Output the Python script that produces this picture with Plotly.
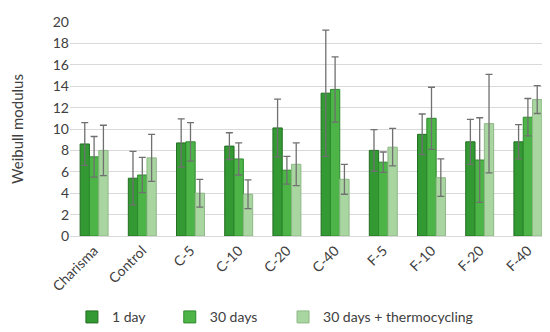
import plotly.graph_objects as go

categories = ["Charisma", "Control", "C-5", "C-10", "C-20", "C-40", "F-5", "F-10", "F-20", "F-40"]
series_names = ["1 day", "30 days", "30 days + thermocycling"]
day1 = [8.6, 5.4, 8.7, 8.4, 10.1, 13.35, 8.0, 9.5, 8.8, 8.8]
day1_err = [2.0, 2.5, 2.25, 1.25, 2.7, 5.9, 1.95, 1.9, 2.1, 1.6]
day30 = [7.4, 5.7, 8.8, 7.2, 6.15, 13.7, 6.9, 11.0, 7.1, 11.1]
day30_err = [1.9, 1.65, 1.8, 1.5, 1.3, 3.05, 0.95, 2.9, 3.95, 1.75]
thermo = [8.0, 7.3, 4.0, 3.9, 6.7, 5.3, 8.3, 5.45, 10.5, 12.75]
thermo_err = [2.35, 2.2, 1.3, 1.35, 2.0, 1.4, 1.75, 1.75, 4.6, 1.3]
y_ticks = [0, 2, 4, 6, 8, 10, 12, 14, 16, 18, 20]

fills = ["#339933", "#4DB548", "#A9D5A0"]
lines = ["#236E23", "#2E8A2E", "#8DB886"]
legend_ids = ["legend", "legend2", "legend3"]
legend_x = [0.004, 0.207, 0.442]

fig = go.Figure()
for name, vals, errs, fc, lc, lid in zip(series_names, [day1, day30, thermo],
                                         [day1_err, day30_err, thermo_err], fills, lines, legend_ids):
    fig.add_trace(go.Bar(
        x=categories, y=vals, name=name, legend=lid,
        marker=dict(color=fc, line=dict(color=lc, width=1)),
        error_y=dict(type="data", array=errs, visible=True,
                     color="#707070", thickness=1.3, width=3.5),
    ))

legend_common = dict(orientation="h", xanchor="left", y=-0.38, yanchor="middle",
                     font=dict(size=14, color="#404040"), itemwidth=30,
                     bgcolor="rgba(0,0,0,0)")

fig.update_layout(
    width=550, height=332,
    margin=dict(l=62, r=6, t=14, b=98),
    paper_bgcolor="white", plot_bgcolor="white",
    barmode="group", bargap=0.42, bargroupgap=0,
    font=dict(family="Lato, Open Sans, sans-serif", size=13, color="#404040"),
    showlegend=True,
    legend=dict(x=legend_x[0], **legend_common),
    legend2=dict(x=legend_x[1], **legend_common),
    legend3=dict(x=legend_x[2], **legend_common),
    yaxis=dict(range=[0, 20], tickvals=y_ticks, showgrid=True, gridcolor="#D9D9D9",
               gridwidth=1, zeroline=True, zerolinecolor="#D9D9D9", zerolinewidth=1,
               ticks="", title=dict(text="Weibull modulus", font=dict(size=15, color="#404040"),
                                    standoff=26),
               tickfont=dict(size=14)),
    xaxis=dict(tickangle=-45, showline=True, linecolor="#D9D9D9", ticks="",
               tickfont=dict(size=14)),
)

fig.write_html("out.html")
